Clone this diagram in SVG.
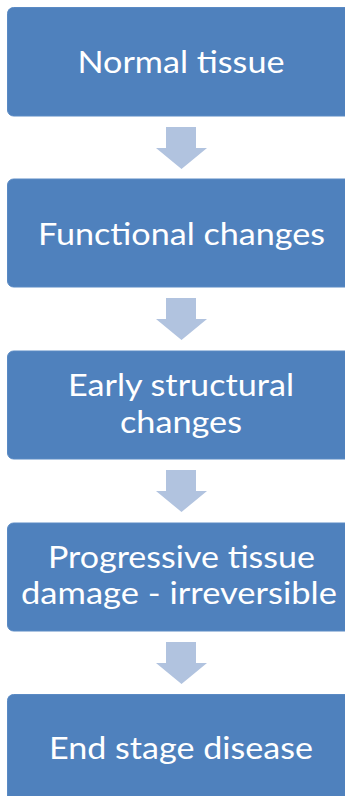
<svg xmlns="http://www.w3.org/2000/svg" width="345" height="796" viewBox="0 0 345 796">
  <style>
    .box { fill: #4F81BD; stroke: #5A8AC4; stroke-width: 1; }
    .lbl { font-family: "Lato", "Open Sans", sans-serif; font-size: 30px; fill: #FFFFFF; text-anchor: middle; }
    .arrow { fill: #B1C3DF; }
  </style>
  <rect width="345" height="796" fill="#FFFFFF"/>
  <g id="connectors">
    <path class="arrow" d="M166,127 H196 V148 H207 L181.5,169 L156,148 H166 Z"/>
    <path class="arrow" d="M166,298 H196 V319 H207 L181.5,340 L156,319 H166 Z"/>
    <path class="arrow" d="M166,470 H196 V491 H207 L181.5,512 L156,491 H166 Z"/>
    <path class="arrow" d="M166,642 H196 V663 H207 L181.5,684 L156,663 H166 Z"/>
  </g>
  <g id="normal-tissue">
    <rect class="box" x="7.5" y="7.5" width="348" height="108.5" rx="6"/>
    <text class="lbl" x="181" y="73" textLength="207" lengthAdjust="spacingAndGlyphs">Normal tissue</text>
  </g>
  <g id="functional-changes">
    <rect class="box" x="7.5" y="179" width="348" height="108" rx="6"/>
    <text class="lbl" x="181.5" y="245" textLength="287" lengthAdjust="spacingAndGlyphs">Functional changes</text>
  </g>
  <g id="early-structural-changes">
    <rect class="box" x="7.5" y="351" width="348" height="108" rx="6"/>
    <text class="lbl" x="181" y="396" textLength="226" lengthAdjust="spacingAndGlyphs">Early structural</text>
    <text class="lbl" x="181" y="432.5" textLength="122" lengthAdjust="spacingAndGlyphs">changes</text>
  </g>
  <g id="progressive-tissue-damage">
    <rect class="box" x="7.5" y="523" width="348" height="108" rx="6"/>
    <text class="lbl" x="181.5" y="567.5" textLength="267" lengthAdjust="spacingAndGlyphs">Progressive tissue</text>
    <text class="lbl" x="179" y="604" textLength="316" lengthAdjust="spacingAndGlyphs">damage - irreversible</text>
  </g>
  <g id="end-stage-disease">
    <rect class="box" x="7.5" y="694.5" width="348" height="108" rx="6"/>
    <text class="lbl" x="181" y="759" textLength="264" lengthAdjust="spacingAndGlyphs">End stage disease</text>
  </g>
</svg>
